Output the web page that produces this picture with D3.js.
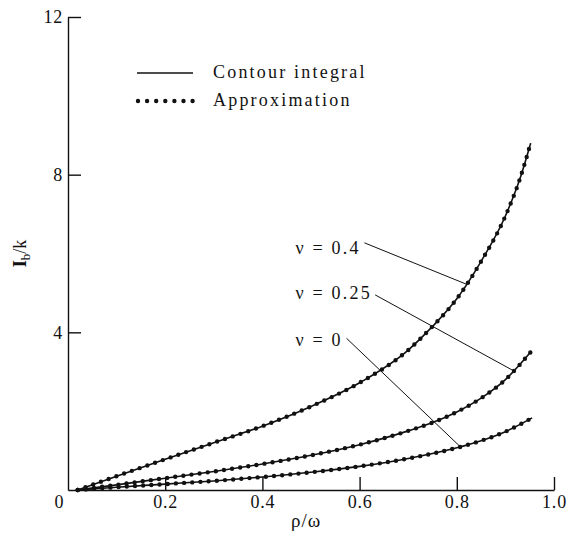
<!DOCTYPE html>
<html>
<head>
<meta charset="utf-8">
<script src="https://cdn.jsdelivr.net/npm/d3@7"></script>
<style>
  body { margin: 0; background: #fff; }
  #chart { width: 568px; height: 537px; }
  text { font-family: "Liberation Serif", "Times New Roman", serif; fill: #111; }
</style>
</head>
<body>
<div id="chart"></div>
<script>
/* ρ/ω positions and I_b/k values, one array per ν */
const xV0 = [0.02, 0.1, 0.2, 0.3, 0.4, 0.5, 0.6, 0.7, 0.8, 0.85, 0.9, 0.955];
const yV0 = [0.0, 0.07, 0.15, 0.23, 0.33, 0.45, 0.6, 0.8, 1.07, 1.25, 1.48, 1.83];

const xV025 = [0.02, 0.1, 0.2, 0.3, 0.4, 0.5, 0.6, 0.7, 0.75, 0.8, 0.85, 0.9, 0.952];
const yV025 = [0.0, 0.13, 0.3, 0.47, 0.66, 0.88, 1.15, 1.5, 1.71, 1.98, 2.33, 2.8, 3.5];

const xV04 = [0.02, 0.1, 0.2, 0.3, 0.4, 0.5, 0.6, 0.7, 0.75, 0.8, 0.85, 0.9, 0.93, 0.952];
const yV04 = [0.0, 0.35, 0.78, 1.2, 1.62, 2.12, 2.72, 3.55, 4.15, 4.85, 5.8, 6.95, 7.9, 8.8];

const xTicks = [0.2, 0.4, 0.6, 0.8, 1.0];
const yTicks = [4, 8, 12];

/* label text, label anchor (data units) and leader end on the curve */
const labelText = ["ν = 0.4", "ν = 0.25", "ν = 0"];
const labelPos = [[0.468, 6.0], [0.468, 4.85], [0.468, 3.65]];
const leaderFrom = [[0.61, 6.27], [0.632, 4.95], [0.573, 3.85]];
const leaderTo = [[0.82, 5.22], [0.916, 3.03], [0.807, 1.1]];

const legendText = ["Contour integral", "Approximation"];

const width = 568, height = 537;
const margin = {top: 17, left: 68, right: 14, bottom: 47};

const svg = d3.select("#chart")
    .append("svg")
    .attr("width", width)
    .attr("height", height);

const xScale = d3.scaleLinear()
    .domain([0, 1])
    .range([margin.left, width - margin.right]);

const yScale = d3.scaleLinear()
    .domain([0, 12])
    .range([height - margin.bottom, margin.top]);

/* AXES */
const xAxis = svg.append("g")
    .attr("transform", `translate(0,${yScale(0)})`)
    .call(d3.axisBottom(xScale)
        .tickValues(xTicks)
        .tickSizeInner(-13)
        .tickSizeOuter(0)
        .tickFormat(d3.format(".1f")));

const yAxis = svg.append("g")
    .attr("transform", `translate(${xScale(0)},0)`)
    .call(d3.axisLeft(yScale)
        .tickValues(yTicks)
        .tickSizeInner(-13)
        .tickSizeOuter(0));

svg.selectAll(".domain, .tick line")
    .attr("stroke", "#111")
    .attr("stroke-width", 1.4);

svg.selectAll(".tick text")
    .style("font-family", "'Liberation Serif', serif")
    .style("font-size", "18px")
    .style("letter-spacing", "0.8px")
    .attr("fill", "#111");

// tick labels sit outside the axes even though the ticks point inward
yAxis.selectAll(".tick text").attr("x", -5);
xAxis.selectAll(".tick text").attr("dy", "0.71em").attr("y", 5);

svg.append("text")
    .attr("x", xScale(0) - 9)
    .attr("y", yScale(0) + 18)
    .attr("text-anchor", "middle")
    .style("font-size", "18px")
    .text("0");

/* CURVES */
const series = [[xV0, yV0], [xV025, yV025], [xV04, yV04]];

const line = d3.line()
    .x(function(d) { return xScale(d[0]); })
    .y(function(d) { return yScale(d[1]); })
    .curve(d3.curveMonotoneX);

series.forEach(function(s) {
    const pts = s[0].map(function(x, i) { return [x, s[1][i]]; });

    svg.append("path")
        .datum(pts)
        .attr("d", line)
        .attr("fill", "none")
        .attr("stroke", "#111")
        .attr("stroke-width", 1.6);

    svg.append("path")
        .datum(pts)
        .attr("d", line)
        .attr("fill", "none")
        .attr("stroke", "#111")
        .attr("stroke-width", 4.4)
        .attr("stroke-linecap", "round")
        .attr("stroke-dasharray", "0 8.2");
});

/* ν LABELS AND LEADERS */
labelText.forEach(function(t, i) {
    svg.append("text")
        .attr("x", xScale(labelPos[i][0]))
        .attr("y", yScale(labelPos[i][1]))
        .style("font-size", "18px")
        .style("letter-spacing", "2.2px")
        .text(t);

    svg.append("line")
        .attr("x1", xScale(leaderFrom[i][0]))
        .attr("y1", yScale(leaderFrom[i][1]))
        .attr("x2", xScale(leaderTo[i][0]))
        .attr("y2", yScale(leaderTo[i][1]))
        .attr("stroke", "#111")
        .attr("stroke-width", 1);
});

/* LEGEND */
const legend = svg.append("g").attr("transform", "translate(137,73)");

legend.append("line")
    .attr("x1", 0).attr("x2", 56)
    .attr("y1", 0).attr("y2", 0)
    .attr("stroke", "#111")
    .attr("stroke-width", 1.6);

legend.append("line")
    .attr("x1", 1).attr("x2", 56)
    .attr("y1", 28).attr("y2", 28)
    .attr("stroke", "#111")
    .attr("stroke-width", 4.4)
    .attr("stroke-linecap", "round")
    .attr("stroke-dasharray", "0 9.1");

legend.selectAll("text.leg")
    .data(legendText)
    .enter()
    .append("text")
        .attr("class", "leg")
        .attr("x", 76)
        .attr("y", function(d, i) { return 5 + i * 28; })
        .style("font-size", "18px")
        .style("letter-spacing", "2.2px")
        .text(function(d) { return d; });

/* AXIS TITLES */
svg.append("text")
    .attr("x", xScale(0.49))
    .attr("y", 527)
    .attr("text-anchor", "middle")
    .style("font-size", "19px")
    .style("letter-spacing", "1px")
    .text("ρ/ω");

const yTitle = svg.append("text")
    .attr("transform", `translate(26,${yScale(6.0)}) rotate(-90)`)
    .attr("text-anchor", "middle")
    .style("font-size", "18px");

yTitle.append("tspan").style("font-weight", "bold").text("I");
yTitle.append("tspan").attr("dy", 4).style("font-size", "13px").text("b");
yTitle.append("tspan").attr("dy", -4).text("/k");
</script>
</body>
</html>
